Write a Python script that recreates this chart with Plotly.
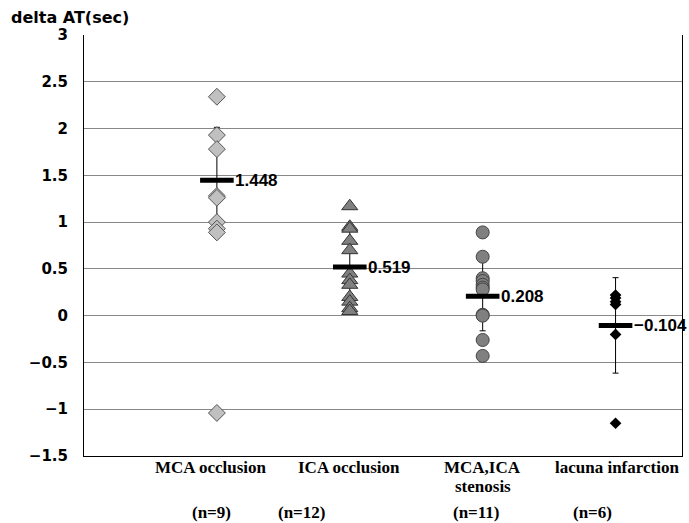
import plotly.graph_objects as go

# ---- data ----
categories = ["MCA occlusion", "ICA occlusion", "MCA,ICA\nstenosis", "lacuna infarction"]
n_labels = ["(n=9)", "(n=12)", "(n=11)", "(n=6)"]
mca_values = [2.34, 1.93, 1.78, 1.28, 1.26, 1.00, 0.93, 0.89, -1.04]
ica_values = [1.17, 0.95, 0.93, 0.80, 0.70, 0.45, 0.38, 0.33, 0.20, 0.15, 0.08, 0.05]
sten_values = [0.89, 0.63, 0.40, 0.37, 0.33, 0.30, 0.28, 0.01, 0.0, -0.26, -0.43]
lacuna_values = [0.22, 0.19, 0.15, 0.12, -0.20, -1.15]
means = [1.448, 0.519, 0.208, -0.104]
sds = [0.565, 0.38, 0.37, 0.51]
y_ticks = [3, 2.5, 2, 1.5, 1, 0.5, 0, -0.5, -1, -1.5]

groups = [mca_values, ica_values, sten_values, lacuna_values]
styles = [
    dict(symbol="diamond", size=13, color="#c0c0c0", line=dict(color="#555555", width=1)),
    dict(symbol="triangle-up", size=14, color="#808080", line=dict(color="#333333", width=1)),
    dict(symbol="circle", size=13, color="#808080", line=dict(color="#444444", width=1)),
    dict(symbol="diamond", size=9, color="#000000", line=dict(color="#000000", width=0)),
]

positions = [i + 1 for i in range(len(categories))]

fig = go.Figure()

# error bars (under points)
fig.add_trace(go.Scatter(
    x=positions, y=means, mode="markers",
    marker=dict(size=1, color="black"),
    error_y=dict(type="data", array=sds, color="black", thickness=1, width=3),
    hoverinfo="skip", showlegend=False,
))

for pos, vals, st in zip(positions, groups, styles):
    fig.add_trace(go.Scatter(
        x=[pos] * len(vals), y=vals, mode="markers",
        marker=st, showlegend=False,
    ))

# mean bars
fig.add_trace(go.Scatter(
    x=positions, y=means, mode="markers",
    marker=dict(symbol="line-ew", size=24, color="black",
                line=dict(color="black", width=5)),
    showlegend=False,
))

annotations = []
for pos, m in zip(positions, means):
    annotations.append(dict(
        x=pos, y=m, xref="x", yref="y", text=f"{m:.3f}".replace("-", "\u2212"),
        showarrow=False, xanchor="left", yanchor="middle", xshift=16,
        font=dict(family="Liberation Sans", size=17, color="black", weight="bold"),
    ))

# category labels (placed as in the original figure)
cat_x = [0.956, 1.994, 3.002, 4.01]
n_x = [0.956, 1.633, 2.957, 3.830]
serif = dict(family="Liberation Serif", size=17, color="black", weight="bold")
for cx, lab in zip(cat_x, categories):
    for k, line in enumerate(lab.split("\n")):
        annotations.append(dict(
            x=cx, y=-0.027, xref="x", yref="paper", text=line, showarrow=False,
            xanchor="center", yanchor="middle", yshift=-19 * k, font=serif,
        ))
for nx, lab in zip(n_x, n_labels):
    annotations.append(dict(
        x=nx, y=-0.135, xref="x", yref="paper", text=lab, showarrow=False,
        xanchor="center", yanchor="middle", font=serif,
    ))

fig.update_layout(
    width=689, height=523,
    margin=dict(l=84, r=7, t=35, b=67),
    paper_bgcolor="white", plot_bgcolor="white",
    showlegend=False,
    title=dict(text="delta AT(sec)", xref="container", yref="container",
               x=11 / 689, xanchor="left", y=1 - 17 / 523, yanchor="middle",
               font=dict(family="DejaVu Sans", size=16, color="black", weight="bold")),
    xaxis=dict(range=[0, 4.5], showticklabels=False, showgrid=False, zeroline=False,
               showline=True, linecolor="black", linewidth=1, ticks=""),
    yaxis=dict(range=[-1.5, 3], tickvals=y_ticks,
               ticktext=[(f"{v:g}").replace("-", "\u2212") for v in y_ticks],
               showgrid=True, gridcolor="#888888", gridwidth=1, zeroline=False,
               showline=True, linecolor="black", linewidth=1, mirror=True,
               ticks="", ticklabelstandoff=12,
               tickfont=dict(family="DejaVu Sans", size=15, color="black", weight="bold")),
    annotations=annotations,
)

fig.write_html("out.html", config={"displayModeBar": False},
               post_script="document.body.style.margin='0';document.body.style.overflow='hidden';")
